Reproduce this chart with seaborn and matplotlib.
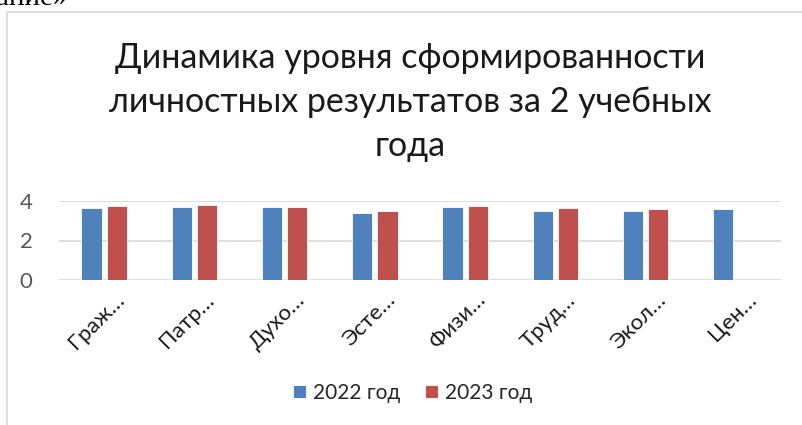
import numpy as np
import pandas as pd
import seaborn as sns
import matplotlib
matplotlib.use("Agg")
import matplotlib.pyplot as plt
from matplotlib.patches import Rectangle
import matplotlib.transforms as mtransforms

categories = ["Граж…", "Патр…", "Духо…", "Эсте…", "Физи…", "Труд…", "Экол…", "Цен…"]
values_2022 = [3.64, 3.68, 3.68, 3.37, 3.68, 3.47, 3.47, 3.57]
values_2023 = [3.74, 3.78, 3.68, 3.50, 3.74, 3.64, 3.59, np.nan]
series_names = ["2022 год", "2023 год"]
y_ticks = [0, 2, 4]
title_text = "Динамика уровня сформированности\nличностных результатов за 2 учебных\nгода"

df = pd.DataFrame({
    "cat": categories * 2,
    "val": values_2022 + values_2023,
    "series": [series_names[0]] * len(categories) + [series_names[1]] * len(categories),
})

sns.set_theme(style="white")
plt.rcParams["font.family"] = ["Lato", "DejaVu Sans"]

W, H = 803, 425
fig = plt.figure(figsize=(W / 100, H / 100), dpi=100)
fig.patch.set_facecolor("white")

# chart frame border (partially cropped)
fig.patches.append(Rectangle((7 / W, -0.1), 1.2, 1.1 - 12 / H,
                             transform=fig.transFigure, fill=False,
                             edgecolor="#D9D9D9", linewidth=1.2))

ax = fig.add_axes([59 / W, 145 / H, (781 - 59) / W, (280 - 201) / H])
palette = {series_names[0]: "#4F81BD", series_names[1]: "#C0504D"}
sns.barplot(data=df, x="cat", y="val", hue="series", palette=palette,
            width=0.56, gap=0.2, ax=ax, edgecolor="white", linewidth=0.6,
            saturation=1, legend=True)

ax.set_ylim(0, 4)
ax.set_xlim(-0.5, len(categories) - 0.5)
ax.set_yticks(y_ticks)
ax.yaxis.grid(True, color="#D9D9D9", linewidth=1.2)
ax.set_axisbelow(True)
for s in ax.spines.values():
    s.set_visible(False)
ax.set_xlabel("")
ax.set_ylabel("")
ax.tick_params(axis="y", length=0, pad=19, labelsize=16, labelcolor="#595959")
ax.tick_params(axis="x", length=0, pad=12, labelsize=16, labelcolor="#1a1a1a")
offset = mtransforms.ScaledTranslation(17 / 100, 0, fig.dpi_scale_trans)
for lab in ax.get_xticklabels():
    lab.set_rotation(45)
    lab.set_ha("right")
    lab.set_va("center")
    lab.set_rotation_mode("anchor")
    lab.set_transform(lab.get_transform() + offset)

leg = ax.legend(loc="center", bbox_to_anchor=(413 / W, 1 - 393 / H),
                bbox_transform=fig.transFigure, ncol=2, frameon=False,
                fontsize=15, handlelength=0.6, handleheight=0.6,
                handletextpad=0.35, columnspacing=1.2)

fig.text(410 / W, 1 - 42 / H, title_text, ha="center", va="top",
         fontsize=24.5, color="#1a1a1a", linespacing=1.47)

fig.text(-4 / W, 1 - 5 / H, "ание»", ha="left", va="baseline",
         fontsize=21, family="Liberation Serif", color="black")

fig.savefig("out.png", dpi=100)
